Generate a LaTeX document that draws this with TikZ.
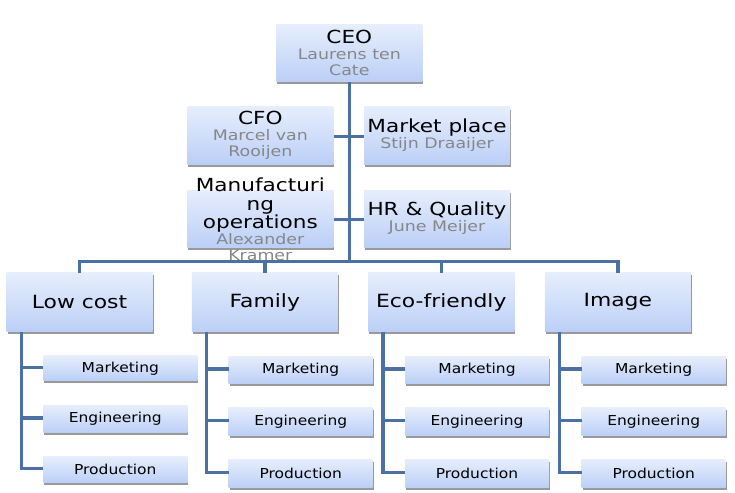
\documentclass[tikz,border=0pt]{standalone}
\usepackage{fontspec}
\newfontfamily\dv{DejaVu Sans}[FakeStretch=1.2]
\newfontfamily\dvs{DejaVu Sans}[FakeStretch=1.13]
\usetikzlibrary{shadows}
\definecolor{boxtop}{HTML}{E6EEFC}
\definecolor{boxbot}{HTML}{BBCFF7}
\definecolor{connc}{HTML}{4B71A3}
\definecolor{subgray}{HTML}{878787}
\newcommand\orgtitle{\fontsize{18}{16}\selectfont\color{black}}
\newcommand\orgsubt{\fontsize{14.5}{16}\selectfont\color{subgray}}
\tikzset{
  box/.style={rectangle, inner sep=0pt, draw=none, top color=boxtop, bottom color=boxbot,
    drop shadow={shadow xshift=1pt, shadow yshift=-2.5pt, fill=black!40, opacity=1}},
  lvlone/.style={box, minimum width=146pt, minimum height=57pt},
  lvltwo/.style={box, minimum width=146pt, minimum height=59pt},
  lvlthree/.style={box, minimum width=144pt, minimum height=27pt},
  txtone/.style={inner sep=0pt, align=center, font=\dv\fontsize{14.5}{16}\selectfont},
  txttwo/.style={inner sep=0pt, font=\dv\fontsize{18.2}{20}\selectfont},
  txtthree/.style={inner sep=0pt, font=\dvs\fontsize{13.7}{15}\selectfont},
  conn/.style={draw=connc, line width=3.5pt}
}
\begin{document}
\begin{tikzpicture}[x=1pt,y=-1pt]
\useasboundingbox (0,0) rectangle (735,492);
\fill[white] (0,0) rectangle (735,492);
% level one
\node[lvlone] (ceo) at (349.3,53) {};
\node[lvlone] (cfo) at (260.3,135.5) {};
\node[lvlone] (mkt) at (437,135.5) {};
\node[lvlone] (mfg) at (260.3,218.5) {};
\node[lvlone] (hrq) at (437,218.5) {};
% level two
\node[lvltwo] (lc) at (79.5,302.2) {};
\node[lvltwo] (fa) at (264.8,302.2) {};
\node[lvltwo] (ec) at (441.3,302.2) {};
\node[lvltwo] (im) at (617.8,302.2) {};
% level three
\node[lvlthree, minimum width=154pt, minimum height=25pt] (lcM) at (120.3,368.3) {};
\node[lvlthree, minimum height=27.5pt] (lcE) at (115.3,419) {};
\node[lvlthree, minimum height=26pt] (lcP) at (115.3,469.7) {};
\foreach \n/\x in {fa/300.7, ec/477, im/653.7}{
  \node[lvlthree, minimum height=27.5pt] (\n M) at (\x,370) {};
  \node[lvlthree, minimum height=27.5pt] (\n E) at (\x,421.7) {};
  \node[lvlthree, minimum height=28pt] (\n P) at (\x,473.5) {};
}
% connectors
\coordinate (busC) at (349.3,261.5);
\draw[conn] (ceo.south) -- (busC);
\draw[conn] (lc.north) -- (lc.north |- busC) -- (im.north |- busC) -- (im.north);
\draw[conn] (fa.north) -- (fa.north |- busC);
\draw[conn] (ec.north) -- (ec.north |- busC);
\draw[conn] ([yshift=-1.2pt]cfo.east) -- ([yshift=-1.2pt]mkt.west);
\draw[conn] ([yshift=-1.2pt]mfg.east) -- ([yshift=-1.2pt]hrq.west);
\foreach \n in {lc,fa,ec,im}{
  \coordinate (\n v) at ([xshift=15pt]\n.south west);
  \draw[conn] (\n v) |- ([yshift=1pt]\n P.west);
  \draw[conn] ([yshift=1pt]\n M.west) -- ([yshift=1pt]\n M.west -| \n v);
  \draw[conn] ([yshift=1pt]\n E.west) -- ([yshift=1pt]\n E.west -| \n v);
}
% texts level one
\node[txtone] (ceoT) at (ceo) {\orgtitle CEO\\\orgsubt Laurens ten\\\orgsubt Cate};
\node[txtone] (cfoT) at (cfo) {\orgtitle CFO\\\orgsubt Marcel van\\\orgsubt Rooijen};
\node[txtone] (mktT) at (mkt) {\orgtitle Market place\\\orgsubt Stijn Draaijer};
\node[txtone] (mfgT) at ([yshift=-1pt]mfg) {\orgtitle Manufacturi\\[3pt]\orgtitle ng\\\orgtitle operations\\\orgsubt Alexander\\\orgsubt Kramer};
\node[txtone] (hrqT) at (hrq) {\orgtitle HR \& Quality\\\orgsubt June Meijer};
% texts level two
\node[txttwo] (lcT) at (lc) {Low cost};
\node[txttwo] (faT) at (fa) {Family};
\node[txttwo] (ecT) at (ec) {Eco-friendly};
\node[txttwo] (imT) at (im) {Image};
% texts level three
\foreach \n in {lc,fa,ec,im}{
  \node[txtthree] (\n MT) at (\n M) {Marketing};
  \node[txtthree] (\n ET) at (\n E) {Engineering};
  \node[txtthree] (\n PT) at (\n P) {Production};
}
\end{tikzpicture}
\end{document}
